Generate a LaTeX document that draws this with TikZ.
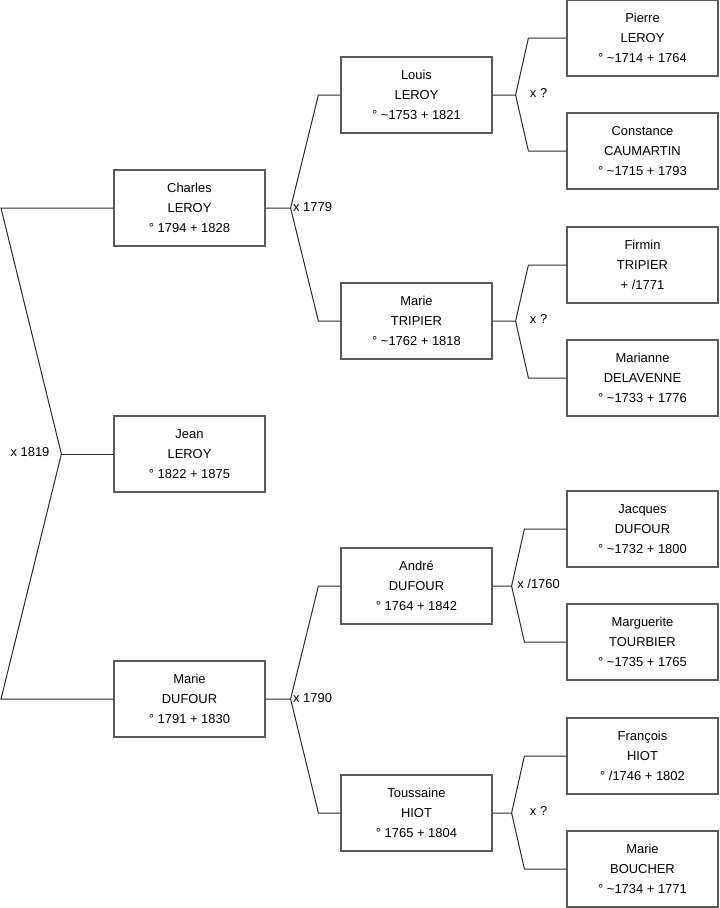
\documentclass[tikz,border=0pt]{standalone}
\usepackage{fontspec}
\setmainfont{Liberation Sans}
\usetikzlibrary{positioning, calc}
\definecolor{boxgrey}{HTML}{5a5a5a}
\definecolor{linedark}{HTML}{2b2b2b}
\tikzset{
  person/.style={rectangle, draw=boxgrey, fill=white, line width=0.9pt,
                 minimum width=113.25pt, minimum height=57pt, inner sep=0pt,
                 align=center, font=\fontsize{9.7}{15}\selectfont},
  wedlink/.style={draw=linedark, line width=0.75pt},
  wedlabel/.style={font=\fontsize{9.7}{12}\selectfont, inner sep=1pt},
}

\begin{document}
\begin{tikzpicture}[x=0.75pt, y=-0.75pt]
  \useasboundingbox (0,0) rectangle (719,908);

  % --- generation 1 ---
  \node[person] (jean) at (189.5,454) {Jean\\LEROY\\° 1822 + 1875};
  % --- generation 2 ---
  \node[person] (charles) at (189.5,208) {Charles\\LEROY\\° 1794 + 1828};
  \node[person] (dufour)  at (189.5,699) {Marie\\DUFOUR\\° 1791 + 1830};
  % --- generation 3 ---
  \node[person] (louis)   at (416.5,95)  {Louis\\LEROY\\° \textasciitilde1753 + 1821};
  \node[person] (tripier) at (416.5,321) {Marie\\TRIPIER\\° \textasciitilde1762 + 1818};
  \node[person] (andre)   at (416.5,586) {André\\DUFOUR\\° 1764 + 1842};
  \node[person] (hiot)    at (416.5,813) {Toussaine\\HIOT\\° 1765 + 1804};
  % --- generation 4 ---
  \node[person] (pierre)     at (642.5,38)  {Pierre\\LEROY\\° \textasciitilde1714 + 1764};
  \node[person] (constance)  at (642.5,151) {Constance\\CAUMARTIN\\° \textasciitilde1715 + 1793};
  \node[person] (firmin)     at (642.5,265) {Firmin\\TRIPIER\\+ /1771};
  \node[person] (marianne)   at (642.5,378) {Marianne\\DELAVENNE\\° \textasciitilde1733 + 1776};
  \node[person] (jacques)    at (642.5,529) {Jacques\\DUFOUR\\° \textasciitilde1732 + 1800};
  \node[person] (marguerite) at (642.5,642) {Marguerite\\TOURBIER\\° \textasciitilde1735 + 1765};
  \node[person] (francois)   at (642.5,756) {François\\HIOT\\° /1746 + 1802};
  \node[person] (boucher)    at (642.5,869) {Marie\\BOUCHER\\° \textasciitilde1734 + 1771};

  % parents of Jean
  \coordinate (f0) at ($(jean.west)+(-52,0)$);
  \draw[wedlink] (charles.west) -- (1,208) -- (f0) -- (1,699) -- (dufour.west);
  \draw[wedlink] (f0) -- (jean.west);
  \node[wedlabel] at (30,452) {x 1819};

  % grandparents
  \foreach \kid/\dad/\mom/\lab in {charles/louis/tripier/{x 1779}, dufour/andre/hiot/{x 1790}}{
    \draw[wedlink] (\kid.east) -- ++(25,0) coordinate (fk)
      -- ($(\dad.west)+(-22,0)$) -- (\dad.west);
    \draw[wedlink] (fk) -- ($(\mom.west)+(-22,0)$) -- (\mom.west);
    \node[wedlabel] at ($(fk)+(22,-1)$) {\lab};
  }

  % great-grandparents
  \foreach \kid/\dad/\mom/\go/\gb/\lab in {louis/pierre/constance/23/38/{x ?},
                                           tripier/firmin/marianne/23/38/{x ?},
                                           andre/jacques/marguerite/19/42/{x /1760},
                                           hiot/francois/boucher/19/42/{x ?}}{
    \draw[wedlink] (\kid.east) -- ++(\go,0) coordinate (fk)
      -- ($(\dad.west)+(-\gb,0)$) -- (\dad.west);
    \draw[wedlink] (fk) -- ($(\mom.west)+(-\gb,0)$) -- (\mom.west);
    \node[wedlabel] at ($(\kid.east)+(46,-2)$) {\lab};
  }
\end{tikzpicture}
\end{document}
